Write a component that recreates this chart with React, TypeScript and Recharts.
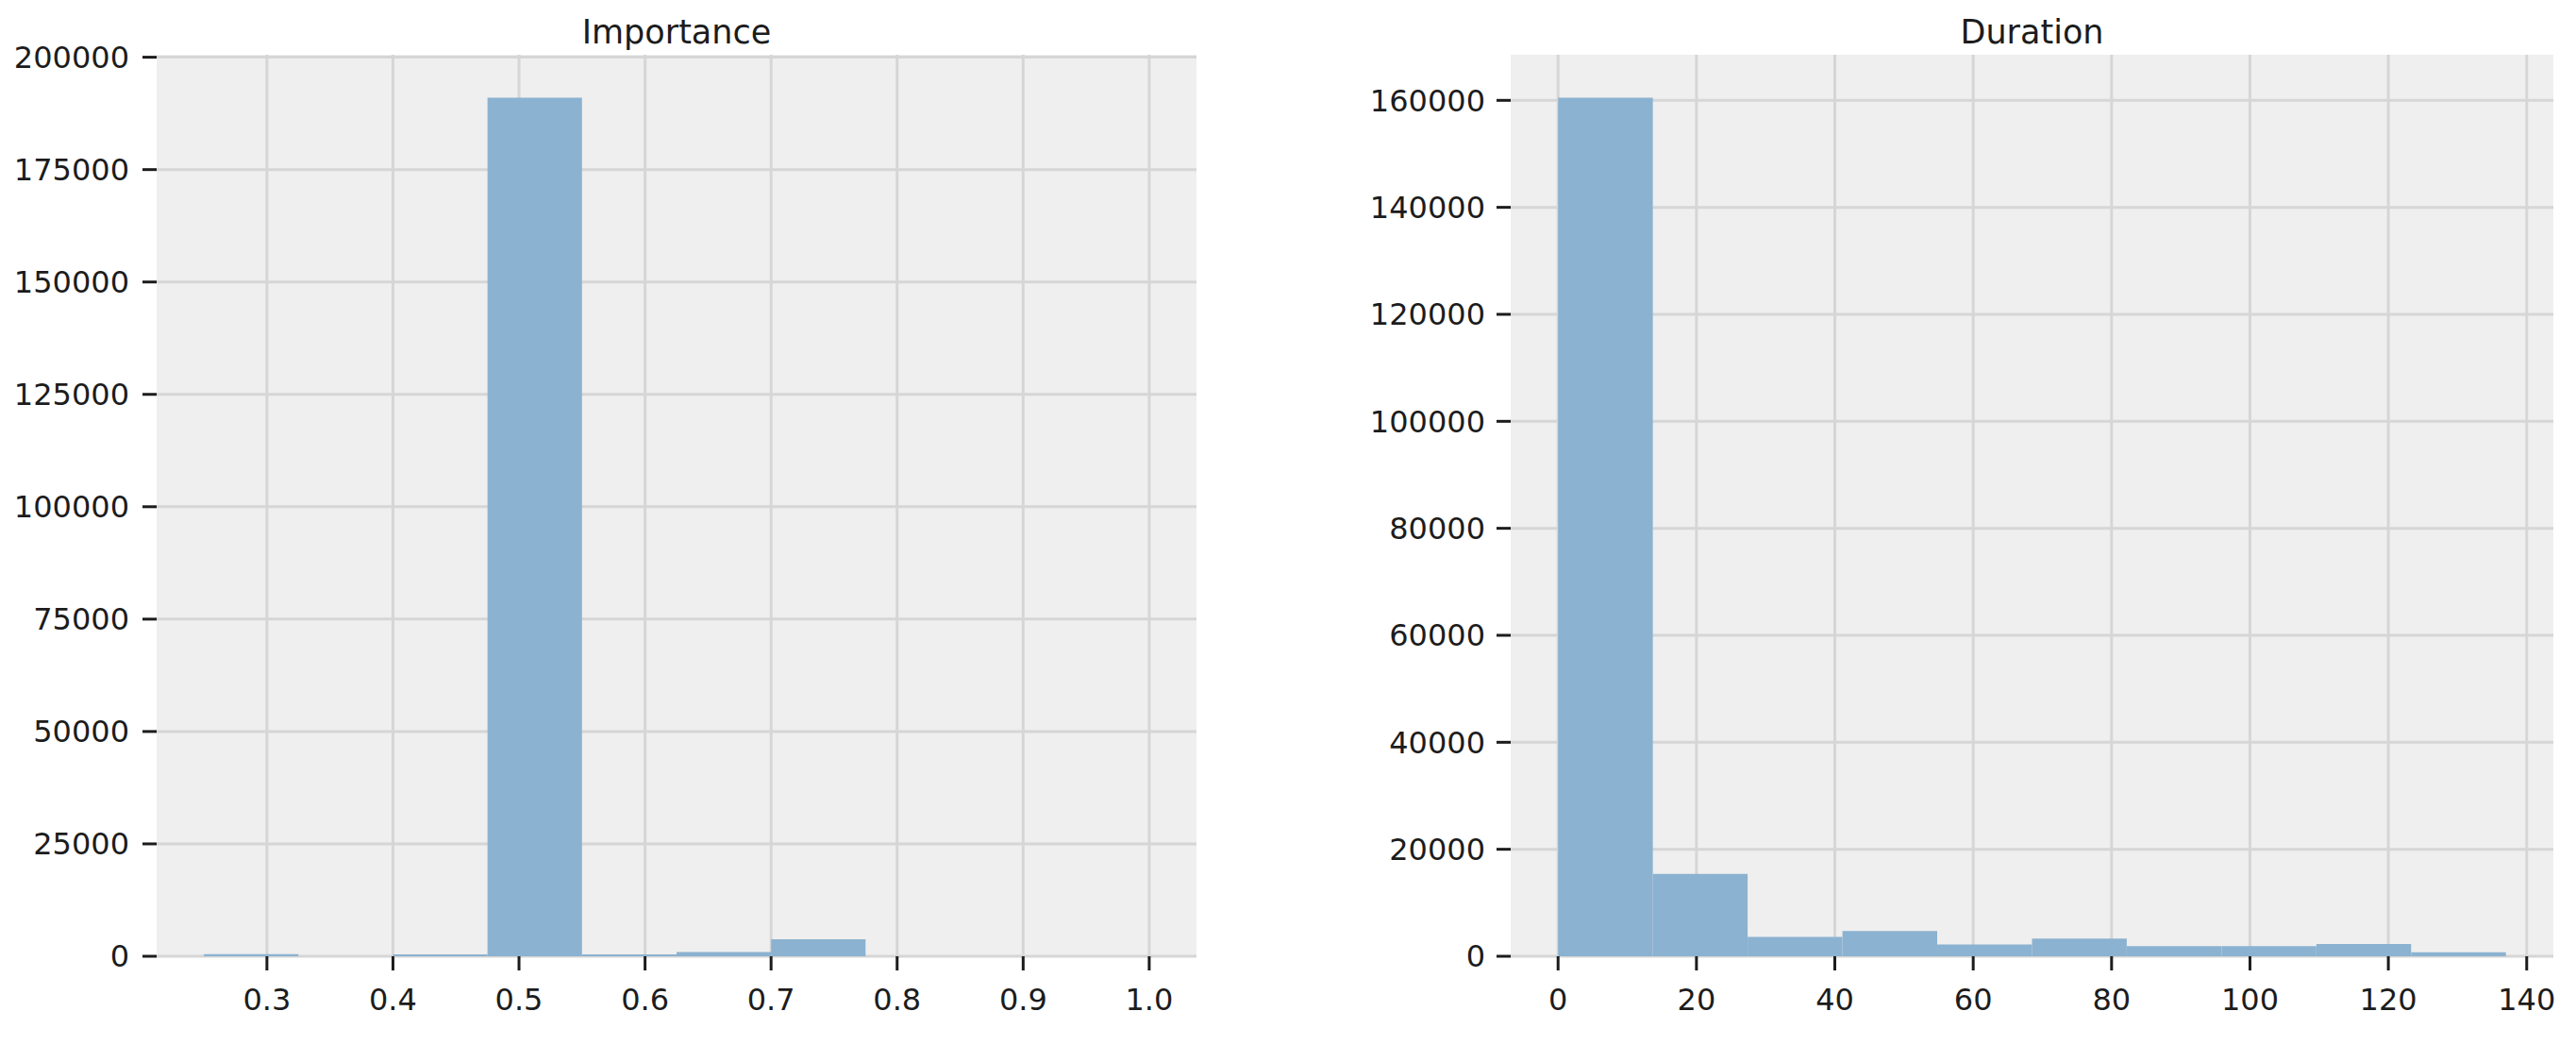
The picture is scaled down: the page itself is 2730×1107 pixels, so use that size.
import React from "react";
import { BarChart, Bar, XAxis, YAxis, CartesianGrid } from "recharts";

// histogram bins (edges) and counts
const IMPORTANCE_EDGES = [0.25, 0.325, 0.4, 0.475, 0.55, 0.625, 0.7, 0.775, 0.85, 0.925, 1.0];
const IMPORTANCE_COUNTS = [450, 0, 400, 191000, 400, 950, 3800, 0, 0, 0];
const IMPORTANCE_XTICKS = [0.3, 0.4, 0.5, 0.6, 0.7, 0.8, 0.9, 1.0];
const IMPORTANCE_YTICKS = [0, 25000, 50000, 75000, 100000, 125000, 150000, 175000, 200000];

const DURATION_EDGES = [0, 13.7, 27.4, 41.1, 54.8, 68.5, 82.2, 95.9, 109.6, 123.3, 137];
const DURATION_COUNTS = [160500, 15400, 3600, 4700, 2200, 3300, 1900, 1900, 2300, 750];
const DURATION_XTICKS = [0, 20, 40, 60, 80, 100, 120, 140];
const DURATION_YTICKS = [0, 20000, 40000, 60000, 80000, 100000, 120000, 140000, 160000];

const FONT = "DejaVu Sans";
const TEXT = "#1c1c1c";
const BAR = "#8bb2d0";
const BG = "#efefef";
const GRID = "#d6d6d6";

const H = 1107;
const TOP = 58;
const X_AXIS_H = 70;
const BOTTOM = 24;

type Props = {
  title: string;
  edges: number[];
  counts: number[];
  xTicks: number[];
  yTicks: number[];
  fmt: (v: number) => string;
  left: number;
  width: number;
  yAxisWidth: number;
  marginRight: number;
  yTickMargin: number;
};

function Histogram(p: Props) {
  const data = p.counts.map((c, i) => ({ mid: (p.edges[i] + p.edges[i + 1]) / 2, count: c }));
  const lo = p.edges[0];
  const hi = p.edges[p.edges.length - 1];
  const pad = (hi - lo) * 0.05;
  const xDomain = [lo - pad, hi + pad];
  const yMax = Math.max(...p.counts) * 1.05;
  const plotW = p.width - p.yAxisWidth - p.marginRight;
  // bin width in px; a hair less than the band so recharts doesn't shrink it to 90%
  const barSize = ((p.edges[1] - p.edges[0]) / (xDomain[1] - xDomain[0])) * plotW - 0.05;
  const tick = { fontFamily: FONT, fontSize: 32, fill: TEXT };

  return (
    <div style={{ position: "absolute", left: p.left, top: 0, width: p.width, height: H }}>
      <BarChart
        width={p.width}
        height={H}
        data={data}
        margin={{ top: TOP, right: p.marginRight, bottom: BOTTOM, left: 0 }}
        barCategoryGap={0}
        barGap={0}
      >
        <CartesianGrid
          fill={BG}
          fillOpacity={1}
          stroke={GRID}
          strokeWidth={3}
          syncWithTicks
        />
        <XAxis
          type="number"
          dataKey="mid"
          domain={xDomain}
          ticks={p.xTicks}
          tickFormatter={p.fmt}
          axisLine={false}
          tickLine={{ stroke: TEXT, strokeWidth: 3 }}
          tickSize={15}
          tickMargin={19}
          height={X_AXIS_H}
          tick={tick}
          interval={0}
        />
        <YAxis
          type="number"
          domain={[0, yMax]}
          ticks={p.yTicks}
          axisLine={false}
          tickLine={{ stroke: TEXT, strokeWidth: 3 }}
          tickSize={15}
          tickMargin={p.yTickMargin}
          width={p.yAxisWidth}
          tick={tick}
          interval={0}
        />
        <Bar dataKey="count" fill={BAR} barSize={barSize} isAnimationActive={false} />
      </BarChart>
      <svg
        width={p.width}
        height={TOP}
        style={{ position: "absolute", left: 0, top: 0, pointerEvents: "none" }}
      >
        <text
          x={p.yAxisWidth + plotW / 2}
          y={46}
          textAnchor="middle"
          fontFamily={FONT}
          fontSize={35}
          fill={TEXT}
        >
          {p.title}
        </text>
      </svg>
    </div>
  );
}

export default function App() {
  return (
    <div style={{ position: "absolute", left: 0, top: 0, width: 2730, height: H, background: "#fff" }}>
      <Histogram
        title="Importance"
        edges={IMPORTANCE_EDGES}
        counts={IMPORTANCE_COUNTS}
        xTicks={IMPORTANCE_XTICKS}
        yTicks={IMPORTANCE_YTICKS}
        fmt={(v) => v.toFixed(1)}
        left={0}
        width={1300}
        yAxisWidth={166}
        marginRight={32}
        yTickMargin={14}
      />
      <Histogram
        title="Duration"
        edges={DURATION_EDGES}
        counts={DURATION_COUNTS}
        xTicks={DURATION_XTICKS}
        yTicks={DURATION_YTICKS}
        fmt={(v) => String(v)}
        left={1400}
        width={1330}
        yAxisWidth={201}
        marginRight={24}
        yTickMargin={12}
      />
    </div>
  );
}
